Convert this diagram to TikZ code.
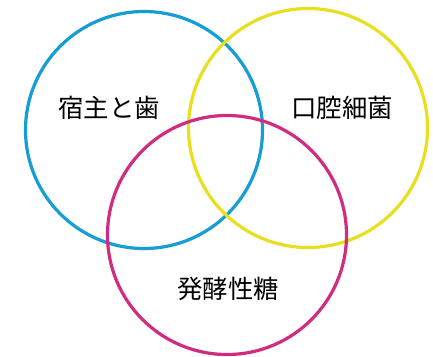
\documentclass[tikz,border=0pt]{standalone}
\usepackage{fontspec}
\setmainfont{Noto Sans CJK JP}
\definecolor{cyanc}{RGB}{20,158,212}
\definecolor{yellowc}{RGB}{232,224,30}
\definecolor{magentac}{RGB}{208,44,128}
\begin{document}
\begin{tikzpicture}[x=1bp,y=-1bp,
  ring/.style={line width=3.2bp},
  lbl/.style={font=\fontsize{25.5}{25.5}\selectfont, text=black, inner sep=0pt}]
\useasboundingbox[fill=white] (0,0) rectangle (433,356);
\draw[ring, cyanc] (144,130) circle[radius=118.5];
\draw[ring, yellowc] (308,128) circle[radius=119.5];
\draw[ring, magentac] (227,235) circle[radius=119.5];
\node[lbl] (host) at (109,108) {宿主と歯};
\node[lbl] (bact) at (342,108) {口腔細菌};
\node[lbl] (sugar) at (228,289) {発酵性糖};
\end{tikzpicture}
\end{document}
